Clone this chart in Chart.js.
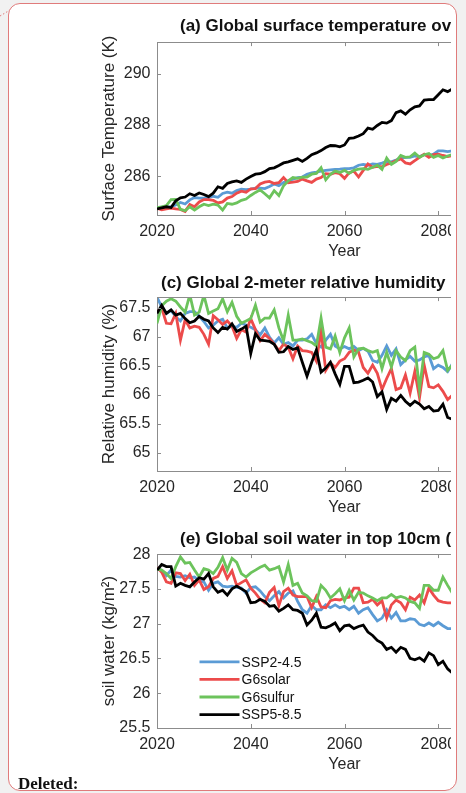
<!DOCTYPE html>
<html>
<head>
<meta charset="utf-8">
<script src="https://cdn.jsdelivr.net/npm/chart.js@4.4.1/dist/chart.umd.min.js"></script>
<style>
  html, body { margin: 0; padding: 0; width: 466px; height: 793px; overflow: hidden; background: #f1f1f1; }
  #sheet { position: absolute; left: 8px; top: 3px; width: 447px; height: 786px; background: #fff;
           border: 1px solid #e07b7b; border-radius: 12px; }
  #clip { position: absolute; left: 0; top: 0; width: 451px; height: 793px; overflow: hidden; }
  #clip canvas { position: absolute; left: 0; }
  .ttl { position: absolute; white-space: nowrap; line-height: 20px; color: #111;
         font: bold 17px "Liberation Sans", Arial, sans-serif; }
  #del { position: absolute; left: 18px; top: 774px; line-height: 20px; color: #111;
         font: bold 17px "Liberation Serif", "Times New Roman", serif; }
  #dots { position: absolute; left: 0; top: 0; }
</style>
</head>
<body>
<svg id="dots" width="12" height="20"><line x1="0" y1="16" x2="10" y2="10" stroke="#e07b7b" stroke-width="1" stroke-dasharray="1.5 2"/></svg>
<div id="sheet"></div>
<div id="clip">
  <canvas id="cTemp" width="560" height="239" style="top:26px"></canvas>
  <canvas id="cRh" width="560" height="240" style="top:281px"></canvas>
  <canvas id="cSoil" width="560" height="240" style="top:538px"></canvas>
  <div class="ttl" style="left:180px;top:16px">(a) Global surface temperature ov</div>
  <div class="ttl" style="left:161px;top:273px">(c) Global 2-meter relative humidity</div>
  <div class="ttl" style="left:180px;top:529px">(e) Global soil water in top 10cm (</div>
</div>
<div id="del">Deleted:</div>
<script>
// Annual global means, 2020-2083
const years = [2020,2021,2022,2023,2024,2025,2026,2027,2028,2029,
               2030,2031,2032,2033,2034,2035,2036,2037,2038,2039,
               2040,2041,2042,2043,2044,2045,2046,2047,2048,2049,
               2050,2051,2052,2053,2054,2055,2056,2057,2058,2059,
               2060,2061,2062,2063,2064,2065,2066,2067,2068,2069,
               2070,2071,2072,2073,2074,2075,2076,2077,2078,2079,
               2080,2081,2082,2083];

const scenarioNames = ['SSP2-4.5', 'G6solar', 'G6sulfur', 'SSP5-8.5'];

// (a) surface temperature, K
const tempSSP245 = [284.78,284.80,284.80,284.82,284.88,284.98,284.92,285.08,285.17,285.15,
                    285.15,285.17,285.22,285.18,285.33,285.38,285.34,285.44,285.50,285.48,
                    285.50,285.54,285.54,285.52,285.60,285.70,285.63,285.76,285.82,285.89,
                    285.95,285.97,286.08,286.13,286.16,286.20,286.23,286.25,286.27,286.28,
                    286.30,286.30,286.33,286.43,286.46,286.43,286.48,286.46,286.51,286.58,
                    286.56,286.63,286.71,286.74,286.74,286.79,286.77,286.84,286.81,286.86,
                    286.99,286.99,286.96,286.99];
const tempG6solar = [284.75,284.69,284.73,284.76,284.73,284.71,284.63,284.90,284.81,285.00,
                     285.09,285.09,285.06,284.96,285.00,285.15,285.21,285.34,285.42,285.38,
                     285.51,285.52,285.70,285.77,285.80,285.72,285.75,285.95,285.75,285.77,
                     285.80,285.89,285.82,285.76,285.89,285.95,286.10,286.08,286.14,286.10,
                     285.92,286.14,286.20,285.97,286.23,286.48,286.35,286.39,286.37,286.46,
                     286.52,286.61,286.68,286.52,286.48,286.61,286.74,286.86,286.74,286.84,
                     286.86,286.81,286.77,286.80];
const tempG6sulfur = [284.78,284.81,284.86,285.09,285.10,284.71,284.66,284.81,284.68,284.81,
                      284.91,284.86,284.91,284.88,284.68,284.94,284.91,284.96,285.06,285.11,
                      285.25,285.37,285.47,285.32,285.16,285.44,285.25,285.63,285.82,285.95,
                      285.92,285.97,285.97,286.08,286.11,286.33,285.86,286.08,286.20,286.15,
                      286.23,286.11,286.23,286.28,286.30,286.27,286.35,286.43,286.27,286.71,
                      286.46,286.58,286.81,286.74,286.76,286.90,286.74,286.84,286.89,286.74,
                      286.81,286.71,286.79,286.85];
const tempSSP585 = [284.73,284.77,284.81,284.78,285.04,285.16,285.19,285.32,285.25,285.35,
                    285.29,285.21,285.34,285.59,285.53,285.72,285.78,285.82,285.76,285.89,
                    285.99,286.08,286.10,286.18,286.30,286.33,286.42,286.52,286.56,286.62,
                    286.68,286.58,286.70,286.84,286.91,287.00,287.12,287.20,287.19,287.15,
                    287.22,287.48,287.50,287.57,287.66,287.88,287.83,287.98,288.10,288.07,
                    288.17,288.48,288.55,288.42,288.59,288.71,288.74,288.97,288.99,288.99,
                    289.18,289.37,289.30,289.40];

// (c) 2-meter relative humidity, %
const rhSSP245 = [67.68,67.51,67.40,67.45,67.34,67.27,67.40,67.43,67.43,67.35,
                  67.26,67.15,67.20,67.27,67.30,67.15,67.18,67.16,67.23,67.20,
                  67.16,67.12,67.03,67.15,66.99,66.89,66.98,66.87,66.90,66.84,
                  66.94,66.94,66.96,67.04,66.88,66.82,66.94,67.04,66.84,66.79,
                  66.83,66.79,66.83,66.76,66.80,66.75,66.59,66.56,66.68,66.84,
                  66.68,66.79,66.52,66.60,66.66,66.58,66.60,66.65,66.68,66.45,
                  66.51,66.47,66.40,66.53];
const rhG6solar = [67.43,67.49,67.23,67.22,67.40,66.94,67.29,67.15,67.18,67.16,
                   67.04,66.87,67.36,67.29,67.21,67.27,67.18,66.97,67.12,67.08,
                   67.31,67.12,66.93,67.04,66.97,66.87,66.76,66.87,66.82,66.62,
                   66.84,66.76,66.75,66.73,66.58,67.10,66.42,66.55,66.47,66.58,
                   66.62,66.73,66.77,66.73,66.47,66.37,66.51,66.37,66.09,66.28,
                   66.45,66.09,66.12,66.34,66.03,66.40,65.95,66.51,66.14,66.12,
                   66.17,66.06,65.92,65.99];
const rhG6sulfur = [67.23,67.53,67.61,67.65,67.61,67.51,67.42,67.72,67.37,67.42,
                    67.71,67.40,67.44,67.48,67.65,67.43,67.59,67.35,67.23,67.27,
                    67.31,67.54,67.25,67.32,67.32,67.46,67.15,66.93,67.37,66.94,
                    66.94,66.96,66.93,66.90,66.84,67.32,66.82,66.79,67.01,66.73,
                    66.98,67.15,66.65,66.79,66.80,66.76,66.73,66.76,66.45,66.73,
                    66.48,66.76,66.65,66.59,66.76,66.82,66.10,66.73,66.70,66.62,
                    66.65,66.76,66.42,66.51];
const rhSSP585 = [67.40,67.54,67.40,67.46,67.37,67.40,67.31,67.24,67.27,67.35,
                  67.30,67.27,67.15,67.07,67.16,67.13,67.22,67.09,67.13,67.18,
                  66.71,67.05,66.94,66.93,66.92,66.87,66.73,66.74,66.83,66.78,
                  66.81,66.56,66.32,66.56,66.77,66.39,66.46,66.56,66.36,66.18,
                  66.49,66.49,66.21,66.22,66.25,66.29,66.22,65.97,66.05,65.75,
                  65.94,65.89,65.99,65.89,65.82,65.89,65.84,65.76,65.80,65.72,
                  65.73,65.84,65.61,65.58];

// (e) soil water in the top 10 cm, kg/m2
const soilSSP245 = [27.81,27.76,27.69,27.77,27.68,27.67,27.69,27.66,27.67,27.62,
                    27.60,27.48,27.58,27.60,27.54,27.53,27.54,27.52,27.51,27.44,
                    27.52,27.53,27.47,27.39,27.33,27.40,27.46,27.37,27.44,27.47,
                    27.32,27.20,27.15,27.26,27.20,27.20,27.27,27.23,27.27,27.23,
                    27.25,27.20,27.25,27.15,27.20,27.23,27.13,27.04,27.08,27.20,
                    27.08,27.16,27.04,27.04,27.07,27.06,26.99,26.97,27.01,26.97,
                    27.02,26.97,26.93,26.93];
const soilG6solar = [27.81,27.74,27.60,27.58,27.73,27.72,27.62,27.71,27.55,27.63,
                     27.49,27.53,27.65,27.68,27.82,27.65,27.76,27.55,27.59,27.63,
                     27.51,27.44,27.35,27.30,27.45,27.52,27.26,27.46,27.51,27.41,
                     27.39,27.39,27.39,27.23,27.39,27.24,27.23,27.33,27.35,27.34,
                     27.37,27.38,27.51,27.51,27.30,27.31,27.35,27.27,27.33,27.08,
                     27.27,27.34,27.30,27.20,27.38,27.34,27.41,27.30,27.51,27.41,
                     27.33,27.31,27.30,27.30];
const soilG6sulfur = [27.79,27.77,27.72,27.65,27.82,27.96,27.87,27.88,27.77,27.67,
                      27.79,27.77,27.72,27.81,27.95,27.77,27.94,27.88,27.72,27.67,
                      27.73,27.77,27.81,27.84,27.77,27.79,27.82,27.60,27.85,27.55,
                      27.58,27.44,27.40,27.33,27.32,27.55,27.48,27.37,27.43,27.50,
                      27.33,27.48,27.34,27.45,27.44,27.40,27.37,27.33,27.37,27.37,
                      27.42,27.37,27.39,27.37,27.32,27.30,27.22,27.55,27.55,27.48,
                      27.48,27.67,27.55,27.44];
const soilSSP585 = [27.77,27.85,27.82,27.82,27.54,27.58,27.55,27.53,27.60,27.66,
                    27.64,27.72,27.53,27.45,27.48,27.41,27.50,27.54,27.50,27.46,
                    27.30,27.31,27.35,27.32,27.25,27.26,27.18,27.22,27.27,27.20,
                    27.19,27.15,26.98,27.05,27.15,26.95,26.94,26.97,27.01,26.90,
                    26.97,26.98,26.93,26.96,26.98,26.88,26.83,26.76,26.72,26.63,
                    26.66,26.59,26.66,26.63,26.50,26.48,26.51,26.46,26.58,26.54,
                    26.41,26.46,26.35,26.29];

// Axis ticks
const yearTicks = [2020, 2040, 2060, 2080, 2100];
const tempTicks = [286, 288, 290];
const rhTicks = [65, 65.5, 66, 66.5, 67, 67.5];
const soilTicks = [25.5, 26, 26.5, 27, 27.5, 28];

const FONT = '"Liberation Sans", Arial, Helvetica, sans-serif';
const TEXT = '#262626';
const AXIS = '#8c8c8c';
const lineColors = ['#5b9bd5', '#ec4b4b', '#6cc35c', '#000000'];
const drawOrder = [3, 2, 1, 0];   // SSP5-8.5 painted last, on top

// Box frame on top edge plus inward tick marks, as in the original figure style
const framePlugin = {
  id: 'frameTicks',
  afterDatasetsDraw(chart) {
    const { ctx, chartArea: a, scales: { x, y } } = chart;
    const len = 4;
    ctx.save();
    ctx.strokeStyle = AXIS;
    ctx.lineWidth = 1;
    ctx.beginPath();
    ctx.moveTo(a.left, Math.round(a.top) + 0.5);
    ctx.lineTo(a.right, Math.round(a.top) + 0.5);
    x.ticks.forEach(t => {
      const px = Math.round(x.getPixelForValue(t.value)) + 0.5;
      ctx.moveTo(px, a.bottom); ctx.lineTo(px, a.bottom - len);
      ctx.moveTo(px, a.top); ctx.lineTo(px, a.top + len);
    });
    y.ticks.forEach(t => {
      const py = Math.round(y.getPixelForValue(t.value)) + 0.5;
      ctx.moveTo(a.left, py); ctx.lineTo(a.left + len, py);
    });
    ctx.stroke();
    ctx.restore();
  }
};

// Legend drawn inside the plot area without a box
const inlineLegend = {
  id: 'inlineLegend',
  afterDraw(chart, args, opts) {
    if (!opts || !opts.show) return;
    const { ctx, chartArea: a } = chart;
    ctx.save();
    ctx.font = '14px ' + FONT;
    ctx.textBaseline = 'middle';
    ctx.textAlign = 'left';
    chart.data.datasets.forEach((ds, i) => {
      const yy = a.top + opts.top + i * opts.rowGap;
      const x0 = a.left + opts.left;
      ctx.strokeStyle = ds.borderColor;
      ctx.lineWidth = ds.borderWidth;
      ctx.beginPath();
      ctx.moveTo(x0, yy);
      ctx.lineTo(x0 + opts.lineLen, yy);
      ctx.stroke();
      ctx.fillStyle = '#111';
      ctx.fillText(ds.label, x0 + opts.lineLen + 2, yy + 1);
    });
    ctx.restore();
  }
};

function makePanel(canvasId, seriesList, yMin, yMax, yTickValues, yTitle, legendOpts) {
  const datasets = seriesList.map((vals, i) => ({
    label: scenarioNames[i],
    data: vals.map((v, k) => ({ x: years[k], y: v })),
    borderColor: lineColors[i],
    backgroundColor: lineColors[i],
    borderWidth: 2.8,
    pointRadius: 0,
    tension: 0,
    fill: false,
    order: drawOrder[i]
  }));
  return new Chart(document.getElementById(canvasId), {
    type: 'line',
    data: { datasets },
    plugins: [framePlugin, inlineLegend],
    options: {
      responsive: false,
      animation: false,
      events: [],
      layout: { padding: { top: 12, left: 0, right: 28, bottom: 0 } },
      plugins: {
        legend: { display: false },
        tooltip: { enabled: false },
        title: { display: false },
        inlineLegend: legendOpts || { show: false }
      },
      scales: {
        x: {
          type: 'linear',
          min: 2020,
          max: 2100,
          afterBuildTicks: s => { s.ticks = yearTicks.map(v => ({ value: v })); },
          afterFit: s => { s.height = 50; },
          grid: { display: false, drawTicks: false },
          border: { display: true, color: AXIS, width: 1 },
          ticks: {
            color: TEXT, font: { family: FONT, size: 16 }, padding: 7,
            maxRotation: 0, autoSkip: false, callback: v => String(v)
          },
          title: {
            display: true, text: 'Year', color: TEXT,
            font: { family: FONT, size: 16 }, padding: { top: 0, bottom: 3.4 }
          }
        },
        y: {
          type: 'linear',
          min: yMin,
          max: yMax,
          afterBuildTicks: s => { s.ticks = yTickValues.map(v => ({ value: v })); },
          afterFit: s => { s.width = 157; },
          grid: { display: false, drawTicks: false },
          border: { display: true, color: AXIS, width: 1 },
          ticks: {
            color: TEXT, font: { family: FONT, size: 16 }, padding: 6.5,
            autoSkip: false, callback: v => String(v)
          },
          title: {
            display: true, text: yTitle, color: TEXT,
            font: { family: FONT, size: 17 }, padding: { top: 99, bottom: 0 }
          }
        }
      }
    }
  });
}

makePanel('cTemp', [tempSSP245, tempG6solar, tempG6sulfur, tempSSP585],
          284.49, 291.23, tempTicks, 'Surface Temperature (K)');
makePanel('cRh', [rhSSP245, rhG6solar, rhG6sulfur, rhSSP585],
          64.69, 67.68, rhTicks, 'Relative humidity (%)');
makePanel('cSoil', [soilSSP245, soilG6solar, soilG6sulfur, soilSSP585],
          25.5, 28, soilTicks, 'soil water (kg/m\u00B2)',
          { show: true, left: 42.5, top: 107.7, rowGap: 17.6, lineLen: 40 });
</script>
</body>
</html>
